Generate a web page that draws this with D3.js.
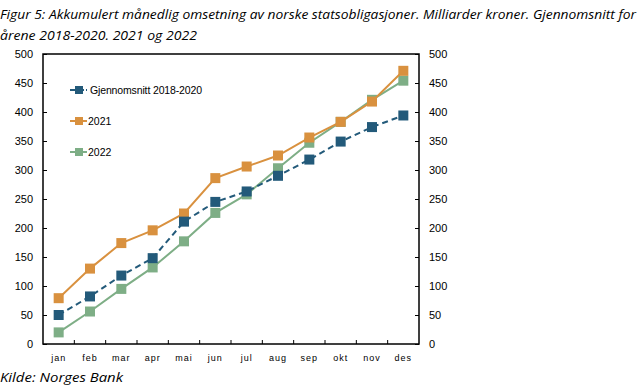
<!DOCTYPE html>
<html><head><meta charset="utf-8">
<script src="https://cdn.jsdelivr.net/npm/d3@7"></script>
<style>body{margin:0;background:#fff}svg{display:block}</style>
</head><body>
<script>
const months = ["jan","feb","mar","apr","mai","jun","jul","aug","sep","okt","nov","des"];
const avg1820 = [50,82,118,148,211,245,263,290,318,349,374,394];
const y2021 = [79,130,174,196,225,286,306,325,356,383,418,471];
const y2022 = [20,56,95,132,177,226,258,303,347,383,421,454];
const yTicks = [0,50,100,150,200,250,300,350,400,450,500];
const seriesNames = ["Gjennomsnitt 2018-2020","2021","2022"];

const W=642,H=392;
const svg=d3.select("body").append("svg").attr("width",W).attr("height",H);
const L=43,R=419,T=54,B=344;
const x=d3.scaleBand().domain(months).range([L,R]);
const y=d3.scaleLinear().domain([0,500]).range([B,T]);

// title
const tf="'Open Sans', 'Liberation Sans', sans-serif";
svg.append("text").attr("x",0).attr("y",19).attr("font-family",tf).attr("font-style","italic").attr("font-size",13)
  .attr("textLength",636).attr("lengthAdjust","spacingAndGlyphs").attr("fill","#000")
  .text("Figur 5: Akkumulert månedlig omsetning av norske statsobligasjoner. Milliarder kroner. Gjennomsnitt for");
svg.append("text").attr("x",0).attr("y",40).attr("font-family",tf).attr("font-style","italic").attr("font-size",13)
  .attr("textLength",197).attr("lengthAdjust","spacingAndGlyphs").attr("fill","#000")
  .text("årene 2018-2020. 2021 og 2022");
svg.append("text").attr("x",0).attr("y",382).attr("font-family",tf).attr("font-style","italic").attr("font-size",13)
  .attr("textLength",123).attr("lengthAdjust","spacingAndGlyphs").attr("fill","#000")
  .text("Kilde: Norges Bank");

// axes
const af="'Liberation Sans', Arial, sans-serif";
const la=svg.append("g").attr("transform",`translate(${L},0)`).call(d3.axisRight(y).tickValues(yTicks).tickSize(4).tickFormat(""));
const ra=svg.append("g").attr("transform",`translate(${R},0)`).call(d3.axisLeft(y).tickValues(yTicks).tickSize(4).tickFormat(""));
[la,ra].forEach(g=>{g.select(".domain").remove();g.selectAll("line").attr("stroke","#000");});
svg.append("g").selectAll("text").data(yTicks).join("text")
  .attr("x",33).attr("y",d=>y(d)+4).attr("text-anchor","end").attr("font-family",af).attr("font-size",11).text(d=>d);
svg.append("g").selectAll("text").data(yTicks).join("text")
  .attr("x",429).attr("y",d=>y(d)+4).attr("text-anchor","start").attr("font-family",af).attr("font-size",11).text(d=>d);
// x ticks between categories
const bounds=months.slice(1).map(m=>x(m));
svg.append("g").selectAll("line").data(bounds).join("line")
  .attr("x1",d=>d).attr("x2",d=>d).attr("y1",B).attr("y2",B-4).attr("stroke","#000");
svg.append("g").selectAll("text").data(months).join("text")
  .attr("x",d=>x(d)+x.bandwidth()/2).attr("y",361).attr("text-anchor","middle")
  .attr("font-family",af).attr("font-size",9).attr("letter-spacing",1).text(d=>d);
// frame
svg.append("rect").attr("x",L).attr("y",T).attr("width",R-L).attr("height",B-T)
  .attr("fill","none").attr("stroke","#000").attr("stroke-width",1.5);

const colors=["#235a7a","#d9913f","#7eae86"];
const data=[avg1820,y2021,y2022];
const line=d3.line().x((d,i)=>x(months[i])+x.bandwidth()/2).y(d=>y(d));
const ms=10;
// draw order: green, orange, blue
[2,1,0].forEach(k=>{
  const g=svg.append("g");
  g.append("path").datum(data[k]).attr("d",line).attr("fill","none").attr("stroke",colors[k])
   .attr("stroke-width",2).attr("stroke-dasharray",k===0?"6,4":null);
  g.selectAll("rect").data(data[k]).join("rect")
   .attr("x",(d,i)=>x(months[i])+x.bandwidth()/2-ms/2).attr("y",d=>y(d)-ms/2)
   .attr("width",ms).attr("height",ms).attr("fill",colors[k]);
});

// legend
const ly=[90,121,152];
seriesNames.forEach((n,k)=>{
  const g=svg.append("g");
  g.append("line").attr("x1",70).attr("x2",87).attr("y1",ly[k]).attr("y2",ly[k]).attr("stroke",colors[k]).attr("stroke-width",2)
   .attr("stroke-dasharray",k===0?"6,2":null);
  g.append("rect").attr("x",75).attr("y",ly[k]-4).attr("width",8).attr("height",8).attr("fill",colors[k]);
  const t=g.append("text").attr("x",k===0?90:88).attr("y",ly[k]+4).attr("font-family",af).attr("font-size",10.5).text(n);
  if(k===0) t.attr("textLength",112).attr("lengthAdjust","spacing");
});
</script>
</body></html>
